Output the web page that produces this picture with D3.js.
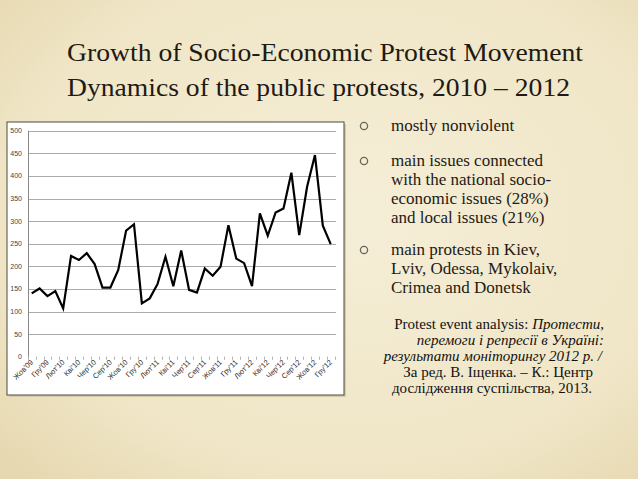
<meta charset="utf-8">
<script src="https://cdn.jsdelivr.net/npm/d3@7"></script>
<body style="margin:0">
<div id="page" style="position:relative;width:638px;height:479px;overflow:hidden">
    <svg id="slide" width="638" height="479" style="position:absolute;left:0;top:0">
        <defs>
            <radialGradient id="paper" cx="55%" cy="45%" r="75%">
                <stop offset="0%" stop-color="#f5eed7"></stop>
                <stop offset="70%" stop-color="#f0e6c7"></stop>
                <stop offset="100%" stop-color="#e6d8b0"></stop>
            </radialGradient>
        </defs>
        <rect width="638" height="479" fill="url(#paper)"></rect>
        <g fill="none" stroke="#6b665c" stroke-width="1.3">
            <circle cx="364" cy="126" r="3.6"></circle>
            <circle cx="364" cy="161" r="3.6"></circle>
            <circle cx="364" cy="250" r="3.6"></circle>
        </g>
        <g id="chart"></g>
    </svg>

    <div class="fit" data-w="516" style="position:absolute;left:67px;top:40px;font-family:'Liberation Serif';font-size:26px;line-height:26px;color:#1e1a14;white-space:nowrap;transform-origin:0 0">Growth of Socio-Economic Protest Movement</div>
    <div class="fit" data-w="503" style="position:absolute;left:67px;top:75px;font-family:'Liberation Serif';font-size:26px;line-height:26px;color:#1e1a14;white-space:nowrap;transform-origin:0 0">Dynamics of the public protests, 2010 – 2012</div>

    <div style="position:absolute;left:391px;top:115.6px;font-family:'Liberation Serif';font-size:17px;line-height:19.3px;color:#1e1a14;white-space:nowrap">mostly nonviolent</div>
    <div style="position:absolute;left:391px;top:150.6px;font-family:'Liberation Serif';font-size:17px;line-height:19.3px;color:#1e1a14;white-space:nowrap">main issues connected<br>with the national socio-<br>economic issues (28%)<br>and local issues (21%)</div>
    <div style="position:absolute;left:391px;top:239.6px;font-family:'Liberation Serif';font-size:17px;line-height:19.3px;color:#1e1a14;white-space:nowrap">main protests in Kiev,<br>Lviv, Odessa, Mykolaiv,<br>Crimea and Donetsk</div>

    <div style="position:absolute;right:34px;top:316px;font-family:'Liberation Serif';font-size:15px;line-height:16px;color:#111;white-space:nowrap">Protest event analysis: <i>Протести,</i></div>
    <div style="position:absolute;right:34px;top:332px;font-family:'Liberation Serif';font-size:15px;line-height:16px;color:#111;white-space:nowrap"><i>перемоги і репресії в Україні:</i></div>
    <div style="position:absolute;right:36px;top:348px;font-family:'Liberation Serif';font-size:15px;line-height:16px;color:#111;white-space:nowrap"><i>результати моніторингу 2012 р. /</i></div>
    <div style="position:absolute;right:45px;top:364px;font-family:'Liberation Serif';font-size:15px;line-height:16px;color:#111;white-space:nowrap">За ред. В. Іщенка. – К.: Центр</div>
    <div style="position:absolute;right:46px;top:380px;font-family:'Liberation Serif';font-size:15px;line-height:16px;color:#111;white-space:nowrap">дослідження суспільства, 2013.</div>
</div>
</body>
<script>
    // months Oct'09 .. Dec'12, protest counts
    months = ["Жов'09","Лис'09","Гру'09","Січ'10","Лют'10","Бер'10","Кві'10","Тра'10","Чер'10","Лип'10","Сер'10","Вер'10",
              "Жов'10","Лис'10","Гру'10","Січ'11","Лют'11","Бер'11","Кві'11","Тра'11","Чер'11","Лип'11","Сер'11","Вер'11",
              "Жов'11","Лис'11","Гру'11","Січ'12","Лют'12","Бер'12","Кві'12","Тра'12","Чер'12","Лип'12","Сер'12","Вер'12",
              "Жов'12","Лис'12","Гру'12"]
    protests = [140,151,134,145,107,223,214,229,205,153,153,192,
                279,293,118,129,161,221,156,235,148,142,195,179,
                199,291,217,207,156,317,268,319,328,407,269,376,
                446,290,249]
    yTicks = [0,50,100,150,200,250,300,350,400,450,500]

    // stretch the two title lines to the reference width
    d3.selectAll(".fit").each(function(){
        var el = this;
        el.style.display = "inline-block";
        var w = el.getBoundingClientRect().width;
        var target = +el.getAttribute("data-w");
        if(w > 0) el.style.transform = "scaleX(" + (target / w) + ")";
    });

    SANS = "Liberation Sans";
    g = d3.select("#chart");

    // chart box
    box = {x: 7, y: 122, w: 337, h: 273};
    g.append("rect").attr("x", box.x + 2).attr("y", box.y + 2).attr("width", box.w).attr("height", box.h)
        .attr("fill", "#d6cba8");
    g.append("rect").attr("x", box.x).attr("y", box.y).attr("width", box.w).attr("height", box.h)
        .attr("fill", "white").attr("stroke", "#4a4a44").attr("stroke-width", 1);

    x = d3.scalePoint().domain(d3.range(months.length)).range([31.7, 330.7]);
    y = d3.scaleLinear().domain([0, 500]).range([356.7, 130.7]);
    step = x.step();

    g.selectAll(".grid").data(yTicks.filter(function(d){ return d > 0; })).enter().append("line")
        .attr("x1", 28.5).attr("x2", 336)
        .attr("y1", function(d){ return Math.round(y(d)) + 0.5; })
        .attr("y2", function(d){ return Math.round(y(d)) + 0.5; })
        .attr("stroke", "#ababab").attr("stroke-width", 1);

    g.append("line").attr("x1", 28.5).attr("x2", 28.5).attr("y1", y(500)).attr("y2", y(0) + 3)
        .attr("stroke", "#8a8a8a");

    g.selectAll(".ylab").data(yTicks).enter().append("text")
        .attr("x", 22).attr("y", function(d){ return y(d) + 2.5; })
        .attr("text-anchor", "end")
        .attr("font-family", SANS).attr("font-size", 7)
        .attr("fill", "#444")
        .text(function(d){ return d; });

    // x tick marks between categories
    g.selectAll(".xtick").data(d3.range(months.length + 1)).enter().append("line")
        .attr("x1", function(d){ return Math.round(x(0) - step/2 + d*step) + 0.5; })
        .attr("x2", function(d){ return Math.round(x(0) - step/2 + d*step) + 0.5; })
        .attr("y1", y(0)).attr("y2", y(0) + 3)
        .attr("stroke", "#b0b0b0");

    g.selectAll(".xlab").data(months.map(function(m, i){ return [m, i]; }).filter(function(d){ return d[1] % 2 == 0; }))
        .enter().append("text")
        .attr("transform", function(d){ return "translate(" + (x(d[1]) + 2) + "," + (y(0) + 6) + ") rotate(-45)"; })
        .attr("text-anchor", "end")
        .attr("font-family", SANS).attr("font-size", 7.5)
        .attr("fill", "#333")
        .text(function(d){ return d[0]; });

    line = d3.line().x(function(d, i){ return x(i); }).y(function(d){ return y(d); });
    g.append("path").datum(protests).attr("d", line)
        .attr("fill", "none").attr("stroke", "#000").attr("stroke-width", 2.2)
        .attr("stroke-linejoin", "miter");
</script>
